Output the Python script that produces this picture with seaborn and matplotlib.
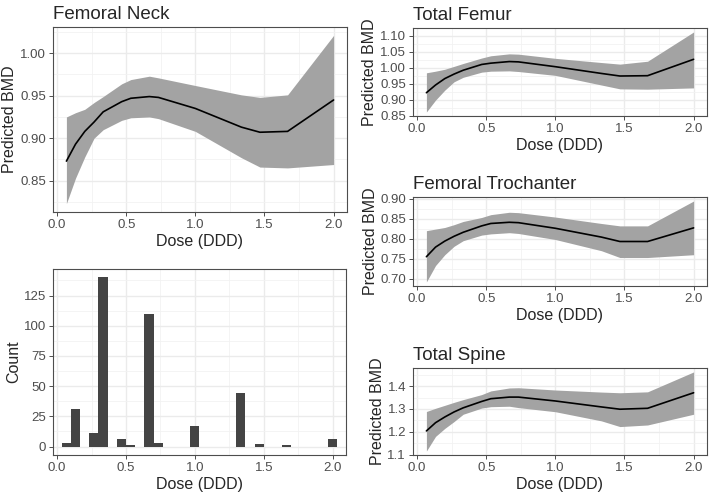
import matplotlib
matplotlib.use("Agg")
import pandas as pd
import matplotlib.pyplot as plt
import seaborn as sns
from matplotlib.ticker import MultipleLocator, FormatStrFormatter

PRED_DOSE = [0.067, 0.133, 0.2, 0.267, 0.333, 0.467, 0.533, 0.667, 0.733, 1.0, 1.333, 1.467, 1.667, 2.0]

NECK_FIT = [0.873, 0.893, 0.908, 0.919, 0.931, 0.943, 0.947, 0.949, 0.948, 0.935, 0.913, 0.907, 0.908, 0.945]
NECK_HI = [0.925, 0.930, 0.934, 0.942, 0.949, 0.964, 0.969, 0.973, 0.971, 0.962, 0.951, 0.948, 0.951, 1.021]
NECK_LO = [0.823, 0.853, 0.878, 0.900, 0.910, 0.921, 0.924, 0.925, 0.923, 0.908, 0.877, 0.866, 0.865, 0.869]

FEMUR_FIT = [0.922, 0.946, 0.966, 0.980, 0.992, 1.010, 1.014, 1.019, 1.018, 1.003, 0.982, 0.974, 0.975, 1.026]
FEMUR_HI = [0.984, 0.989, 0.995, 1.004, 1.013, 1.030, 1.037, 1.043, 1.042, 1.029, 1.016, 1.011, 1.020, 1.111]
FEMUR_LO = [0.862, 0.899, 0.930, 0.956, 0.970, 0.986, 0.989, 0.990, 0.988, 0.976, 0.946, 0.934, 0.933, 0.937]

TROCH_FIT = [0.755, 0.779, 0.794, 0.806, 0.816, 0.832, 0.838, 0.841, 0.840, 0.826, 0.804, 0.793, 0.793, 0.827]
TROCH_HI = [0.820, 0.824, 0.828, 0.835, 0.843, 0.853, 0.860, 0.866, 0.865, 0.854, 0.838, 0.832, 0.832, 0.894]
TROCH_LO = [0.692, 0.733, 0.760, 0.781, 0.795, 0.809, 0.812, 0.815, 0.813, 0.798, 0.770, 0.753, 0.753, 0.760]

SPINE_FIT = [1.204, 1.240, 1.265, 1.287, 1.305, 1.333, 1.345, 1.352, 1.352, 1.335, 1.309, 1.299, 1.303, 1.371]
SPINE_HI = [1.289, 1.303, 1.316, 1.329, 1.341, 1.363, 1.379, 1.392, 1.393, 1.383, 1.374, 1.371, 1.375, 1.462]
SPINE_LO = [1.116, 1.180, 1.215, 1.245, 1.277, 1.304, 1.310, 1.312, 1.306, 1.288, 1.248, 1.223, 1.230, 1.277]

# observed dose levels and how many patients were on each
HIST_DOSE = [0.067, 0.133, 0.267, 0.333, 0.467, 0.533, 0.667, 0.733, 1.0, 1.333, 1.467, 1.667, 2.0]
HIST_COUNT = [3, 31, 11, 140, 6, 1, 110, 3, 17, 44, 2, 1, 6]

W, H = 709, 497
RIBBON = "#A3A3A3"
BAR = "#444444"

sns.set_style("white")
plt.rcParams["font.family"] = ["Liberation Sans", "DejaVu Sans"]


def make_ax(fig, left, top, right, bottom):
    return fig.add_axes([left / W, 1 - bottom / H, (right - left) / W, (bottom - top) / H])


def style_ax(ax, major, fmt, title=None, ylabel="Predicted BMD"):
    ax.set_xlim(-0.03, 2.097)
    ax.xaxis.set_major_locator(MultipleLocator(0.5))
    ax.xaxis.set_minor_locator(MultipleLocator(0.25))
    ax.xaxis.set_major_formatter(FormatStrFormatter("%.1f"))
    ax.yaxis.set_major_locator(MultipleLocator(major))
    ax.yaxis.set_minor_locator(MultipleLocator(major / 2))
    ax.yaxis.set_major_formatter(FormatStrFormatter(fmt))
    ax.set_axisbelow(True)
    ax.grid(which="major", color="#EBEBEB", lw=1.0)
    ax.grid(which="minor", color="#F2F2F2", lw=0.6)
    for s in ax.spines.values():
        s.set_color("#4D4D4D")
        s.set_linewidth(0.8)
    ax.tick_params(which="major", length=3, width=0.7, color="#4D4D4D",
                   labelsize=9.5, labelcolor="#4D4D4D", pad=2, bottom=True, left=True)
    ax.tick_params(which="minor", length=0)
    ax.set_xlabel("Dose (DDD)", fontsize=11.5, labelpad=2)
    ax.set_ylabel(ylabel, fontsize=11.5, labelpad=2)
    if title:
        ax.set_title(title, loc="left", fontsize=13.5, pad=6)


def ribbon_panel(ax, fit, lo, hi, major, fmt, title):
    df = pd.DataFrame({"dose": PRED_DOSE, "fit": fit, "lo": lo, "hi": hi})
    ax.fill_between(df["dose"], df["lo"], df["hi"], color=RIBBON, lw=0)
    sns.lineplot(data=df, x="dose", y="fit", ax=ax, color="black", lw=1.2)
    ax.margins(y=0.05)
    style_ax(ax, major, fmt, title)


def main():
    fig = plt.figure(figsize=(W / 100, H / 100), dpi=100)

    ax_neck = make_ax(fig, 53, 27, 347, 212)
    ribbon_panel(ax_neck, NECK_FIT, NECK_LO, NECK_HI, 0.05, "%.2f", "Femoral Neck")

    ax_hist = make_ax(fig, 53, 269, 346, 455)
    hist_df = pd.DataFrame({"dose": HIST_DOSE, "n": HIST_COUNT})
    sns.histplot(data=hist_df, x="dose", weights="n", bins=30,
                 binrange=(1 / 30, 2 + 1 / 30), color=BAR, alpha=1,
                 linewidth=0, ax=ax_hist)
    ax_hist.set_ylim(-7, 147)
    style_ax(ax_hist, 25, "%d", ylabel="Count")

    ax_femur = make_ax(fig, 413, 28, 707, 116)
    ribbon_panel(ax_femur, FEMUR_FIT, FEMUR_LO, FEMUR_HI, 0.05, "%.2f", "Total Femur")

    ax_troch = make_ax(fig, 413, 197, 707, 286)
    ribbon_panel(ax_troch, TROCH_FIT, TROCH_LO, TROCH_HI, 0.05, "%.2f", "Femoral Trochanter")

    ax_spine = make_ax(fig, 413, 368, 707, 455)
    ribbon_panel(ax_spine, SPINE_FIT, SPINE_LO, SPINE_HI, 0.1, "%.1f", "Total Spine")

    fig.savefig("out.png", dpi=100)
    plt.close(fig)


if __name__ == "__main__":
    main()
